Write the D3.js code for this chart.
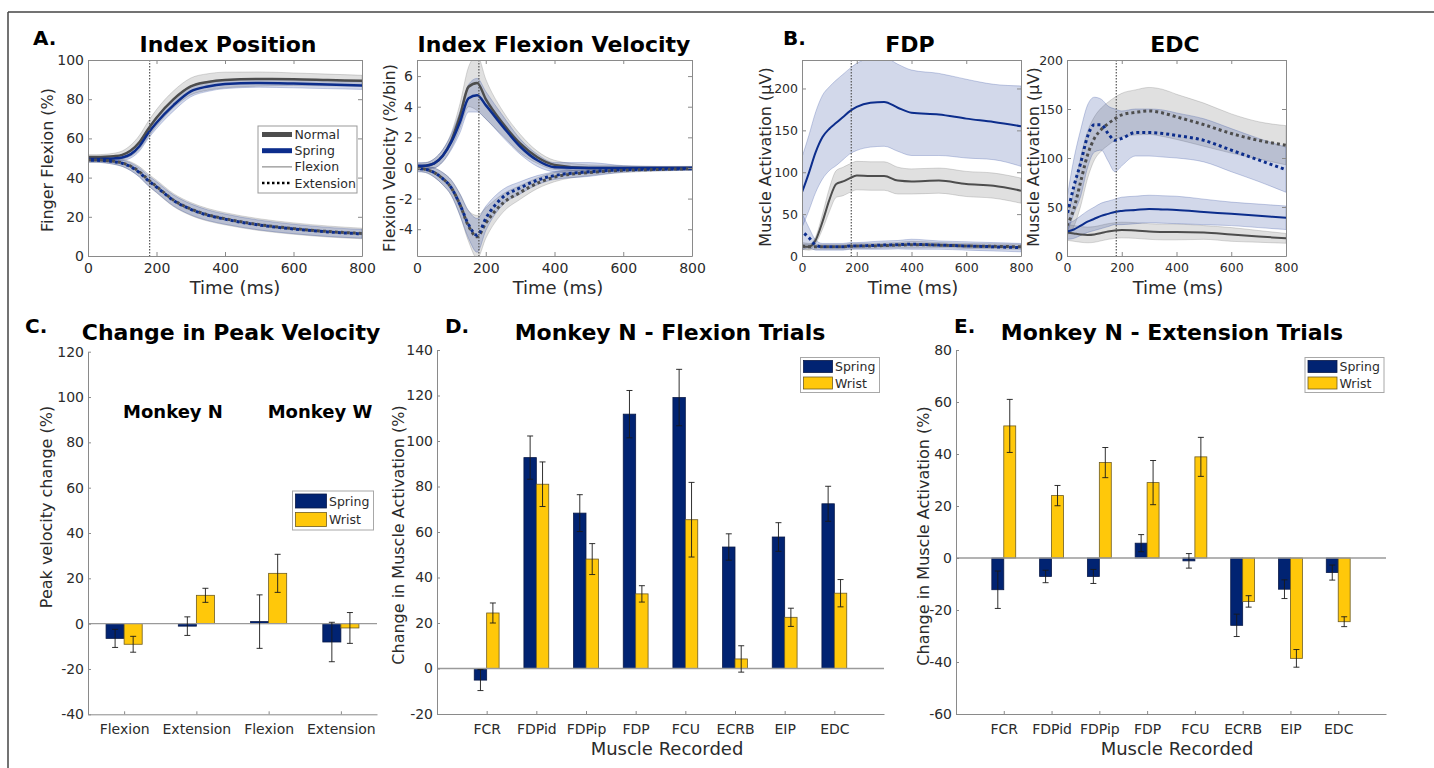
<!DOCTYPE html>
<html>
<head>
<meta charset="utf-8">
<script src="https://cdn.jsdelivr.net/npm/d3@7"></script>
<style>
body { margin: 0; background: #fff; }
svg { font-family: "DejaVu Sans", Verdana, sans-serif; }
</style>
</head>
<body>
<svg id="fig" width="1434" height="768"></svg>
<script>
// ---------- data ----------
// time samples (ms) shared by all trace panels
var T = [0, 25, 50, 75, 100, 125, 150, 175, 200, 250, 300, 350, 400, 500, 600, 700, 800];
var cueTime = 180;
var timeTicks = [0, 200, 400, 600, 800];

// A. index position (%)
var posNormFlex   = [50.5, 50.5, 50.6, 50.9, 51.6, 53.8, 58, 64.5, 70.5, 80, 86.5, 88.8, 89.8, 90.3, 90.2, 89.8, 89.4];
var posNormFlexSd = [1.2, 1.2, 1.3, 1.5, 2, 2.8, 3.5, 4, 4.2, 4.3, 4.3, 4.2, 4, 3.6, 3.2, 3, 2.8];
var posSprFlex    = [49.5, 49.5, 49.6, 49.8, 50.3, 52, 56, 62.5, 68, 77, 84, 86.5, 87.7, 88.3, 88, 87.5, 87];
var posSprFlexSd  = [1, 1, 1, 1.2, 1.5, 2, 2.5, 2.8, 3, 3, 2.8, 2.5, 2.3, 2.2, 2.2, 2.1, 2];
var posNormExt    = [49, 49, 48.8, 48.3, 47.5, 45.8, 43, 39, 35.5, 28.5, 24, 21, 19, 16, 14, 12.5, 11.5];
var posNormExtSd  = [1.2, 1.2, 1.3, 1.5, 1.8, 2.2, 2.6, 3, 3.2, 3.3, 3.3, 3.2, 3.1, 3, 2.9, 2.8, 2.7];
var posSprExt     = [48.8, 48.8, 48.6, 48.1, 47.3, 45.5, 42.6, 38.6, 35.2, 28.3, 23.8, 20.8, 18.8, 15.8, 13.8, 12.3, 11.3];
var posSprExtSd   = [1, 1, 1.1, 1.3, 1.6, 2, 2.3, 2.6, 2.7, 2.8, 2.8, 2.7, 2.6, 2.5, 2.4, 2.3, 2.2];

// A. index flexion velocity (%/bin)
var velNormFlex   = [0.1, 0.15, 0.3, 0.8, 1.8, 3.4, 5.3, 5.55, 4.5, 2.9, 1.6, 0.7, 0.2, 0, 0, 0, 0];
var velNormFlexSd = [0.2, 0.2, 0.3, 0.4, 0.5, 0.8, 1.3, 1.8, 1.3, 0.8, 0.6, 0.4, 0.3, 0.2, 0.15, 0.1, 0.1];
var velSprFlex    = [0.15, 0.15, 0.3, 0.8, 1.7, 3.0, 4.55, 4.75, 4.1, 2.7, 1.4, 0.5, 0.05, 0, 0, 0, 0];
var velSprFlexSd  = [0.2, 0.2, 0.3, 0.4, 0.5, 0.7, 0.9, 1.1, 0.9, 0.7, 0.5, 0.4, 0.3, 0.35, 0.15, 0.1, 0.1];
var velNormExt    = [0, -0.1, -0.3, -0.7, -1.3, -2.4, -3.8, -4.5, -3.6, -2.3, -1.6, -1.0, -0.6, -0.3, -0.15, -0.1, -0.05];
var velNormExtSd  = [0.2, 0.2, 0.3, 0.4, 0.5, 0.7, 1.0, 1.4, 1.0, 0.6, 0.45, 0.35, 0.3, 0.2, 0.15, 0.1, 0.1];
var velSprExt     = [-0.05, -0.1, -0.3, -0.7, -1.3, -2.4, -3.7, -4.4, -3.3, -1.9, -1.3, -0.8, -0.5, -0.25, -0.12, -0.08, -0.05];
var velSprExtSd   = [0.2, 0.2, 0.3, 0.4, 0.5, 0.7, 0.9, 1.1, 0.8, 0.5, 0.4, 0.3, 0.25, 0.3, 0.15, 0.1, 0.1];

// B. FDP activation (uV)
var fdpNormFlex   = [11, 11, 19, 41, 67, 86, 89, 93, 96, 95.5, 95.5, 90, 89, 90, 86, 84, 78];
var fdpNormFlexSd = [3, 3, 4, 9, 14, 16, 17, 17, 17, 17, 17, 16, 15, 15, 15, 15, 15];
var fdpSprFlex    = [76, 99, 124, 142, 152, 159, 166, 173, 178, 183, 184, 177, 171, 169, 164, 160, 155];
var fdpSprFlexSd  = [42, 45, 48, 50, 50, 51, 51, 51, 52, 53, 53, 52, 51, 49, 47, 45, 48];
var fdpNormExt    = [12, 11, 11, 11, 11, 11, 11, 11.5, 12, 12, 12.5, 13, 13.5, 13, 12, 11.5, 11];
var fdpNormExtSd  = [4, 4, 3, 3, 3, 3, 3, 3, 3, 3, 3, 3, 4, 3, 3, 3, 3];
var fdpSprExt     = [29, 22, 13, 11, 11, 11, 11, 12, 12, 12.5, 13, 13.5, 14, 13, 12, 11, 10];
var fdpSprExtSd   = [22, 12, 6, 4, 4, 4, 4, 4, 4, 4.5, 5, 5, 6, 5, 5, 5, 5];

// B. EDC activation (uV)
var edcNormFlex   = [24, 23, 22, 21.5, 22, 23.5, 25, 26, 26.5, 26, 25, 24.5, 24.5, 24, 22, 20, 18];
var edcNormFlexSd = [8, 8, 8, 8, 8, 8, 8, 8, 8, 8, 8, 8, 8, 7, 7, 6, 5];
var edcSprFlex    = [25, 27, 31, 35, 38, 41, 43, 45, 46, 47, 48, 47.5, 47, 45, 43, 41, 39];
var edcSprFlexSd  = [8, 9, 10, 11, 12, 13, 13, 13, 14, 14, 14, 14, 14, 13, 12, 12, 12];
var edcNormExt    = [31, 48, 76, 103, 120, 129, 135, 140, 144, 146.5, 148, 146, 142, 134, 125, 118, 113];
var edcNormExtSd  = [10, 18, 25, 24, 22, 22, 22, 22, 22, 23, 24, 24, 23, 22, 20, 19, 20];
var edcSprExt     = [41, 71, 95, 122, 134, 134, 125, 118, 120, 126, 126, 125, 123, 118, 108, 98, 88];
var edcSprExtSd   = [18, 28, 34, 32, 28, 26, 28, 32, 28, 24, 24, 24, 23, 22, 22, 22, 23];

// C. peak velocity change (%)
var velCats      = ["Flexion", "Extension", "Flexion", "Extension"];
var pkSpring     = [-6.5, -1.1, 0.9, -8.1];
var pkSpringErr  = [4, 4.1, 11.8, 8.7];
var pkWrist      = [-9.1, 12.5, 22.2, -1.9];
var pkWristErr   = [3.5, 3.1, 8.4, 6.8];

// D / E. change in muscle activation (%)
var muscles       = ["FCR", "FDPid", "FDPip", "FDP", "FCU", "ECRB", "EIP", "EDC"];
var flexSpring    = [-5.1, 92.7, 68.3, 111.8, 119.1, 53.4, 57.8, 72.4];
var flexSpringErr = [4.6, 9.5, 8.1, 10.4, 12.4, 5.8, 6.3, 7.7];
var flexWrist     = [24.4, 81, 48.1, 32.8, 65.4, 4.2, 22.5, 33.1];
var flexWristErr  = [4.4, 9.8, 6.8, 3.6, 16.4, 5.8, 4, 6];
var extSpring     = [-12.2, -7.1, -7.1, 5.7, -1.1, -25.9, -12, -5.6];
var extSpringErr  = [7.2, 2.4, 2.7, 3.3, 2.8, 4.3, 3.6, 2.9];
var extWrist      = [50.8, 24, 36.7, 29, 38.9, -16.7, -38.6, -24.5];
var extWristErr   = [10.2, 3.9, 5.8, 8.5, 7.5, 2.2, 3.4, 1.9];

// ---------- styles ----------
var grayLine = "#4d4d4d", blueLine = "#0c2d8c";
var grayBand = "#646464", blueBand = "#1e3c96";
var springCol = "#012372", wristCol = "#ffc80a";
var axisCol = "#8a8a8a", textCol = "#2b2b2b";

var svg = d3.select("#fig");
var clipCount = 0;

function styleAxis(sel, size) {
  sel.attr("color", axisCol).attr("font-family", "DejaVu Sans").attr("font-size", size || 14);
  sel.selectAll("text").attr("fill", textCol);
}

function linePanel(box, yDomain, yTicks, series, lw, fs) {
  var x = d3.scaleLinear().domain([0, 800]).range([box.x0, box.x1]);
  var y = d3.scaleLinear().domain(yDomain).range([box.y1, box.y0]);
  var id = "clip" + (clipCount++);
  svg.append("clipPath").attr("id", id).append("rect")
    .attr("x", box.x0).attr("y", box.y0)
    .attr("width", box.x1 - box.x0).attr("height", box.y1 - box.y0);
  var g = svg.append("g").attr("clip-path", "url(#" + id + ")");

  // shaded error bands
  series.forEach(function(s) {
    var area = d3.area().curve(d3.curveMonotoneX)
      .x(function(d, i) { return x(T[i]); })
      .y0(function(d, i) { return y(d - s.sd[i]); })
      .y1(function(d, i) { return y(d + s.sd[i]); });
    g.append("path").datum(s.mean).attr("d", area)
      .attr("fill", s.band).attr("fill-opacity", 0.2)
      .attr("stroke", s.band).attr("stroke-opacity", 0.3).attr("stroke-width", 0.8);
  });

  // mean traces
  var line = d3.line().curve(d3.curveMonotoneX)
    .x(function(d, i) { return x(T[i]); })
    .y(function(d) { return y(d); });
  series.forEach(function(s) {
    g.append("path").datum(s.mean).attr("d", line)
      .attr("fill", "none").attr("stroke", s.color)
      .attr("stroke-width", s.dotted ? 3 : lw)
      .attr("stroke-dasharray", s.dotted ? "3,3" : null)
      .attr("stroke-dashoffset", s.dotted && s.color == blueLine ? 3 : 0);
  });

  // go cue
  svg.append("line")
    .attr("x1", x(cueTime)).attr("x2", x(cueTime))
    .attr("y1", box.y0).attr("y2", box.y1)
    .attr("stroke", "#555").attr("stroke-width", 1.2).attr("stroke-dasharray", "1.5,1.5");

  svg.append("g").attr("transform", "translate(0," + box.y1 + ")")
    .call(d3.axisBottom(x).tickValues(timeTicks).tickSizeInner(-4).tickSizeOuter(0).tickPadding(7))
    .call(styleAxis, fs);
  svg.append("g").attr("transform", "translate(0," + box.y0 + ")")
    .call(d3.axisTop(x).tickValues(timeTicks).tickSizeInner(-4).tickSizeOuter(0).tickFormat(""))
    .call(styleAxis, fs);
  svg.append("g").attr("transform", "translate(" + box.x0 + ",0)")
    .call(d3.axisLeft(y).tickValues(yTicks).tickSizeInner(-4).tickSizeOuter(0).tickPadding(4)
      .tickFormat(function(d) { return String(d); }))
    .call(styleAxis, fs);
  svg.append("g").attr("transform", "translate(" + box.x1 + ",0)")
    .call(d3.axisRight(y).tickValues(yTicks).tickSizeInner(-4).tickSizeOuter(0).tickFormat(""))
    .call(styleAxis, fs);
}

function errBars(x, y, vals, errs, off) {
  vals.forEach(function(v, i) {
    var cx = x(i + 1) + off;
    var g = svg.append("g").attr("stroke", "#1a1a1a").attr("stroke-width", 0.9);
    g.append("line").attr("x1", cx).attr("x2", cx).attr("y1", y(v - errs[i])).attr("y2", y(v + errs[i]));
    g.append("line").attr("x1", cx - 3).attr("x2", cx + 3).attr("y1", y(v - errs[i])).attr("y2", y(v - errs[i]));
    g.append("line").attr("x1", cx - 3).attr("x2", cx + 3).attr("y1", y(v + errs[i])).attr("y2", y(v + errs[i]));
  });
}

function barPanel(box, xDomain, yDomain, yTicks, cats, sp, spErr, wr, wrErr) {
  var x = d3.scaleLinear().domain(xDomain).range([box.x0, box.x1]);
  var y = d3.scaleLinear().domain(yDomain).range([box.y1, box.y0]);
  var w = (x(2) - x(1)) * 0.25;

  svg.append("g").selectAll("rect").data(sp).enter().append("rect")
    .attr("x", function(d, i) { return x(i + 1) - w; })
    .attr("y", function(d) { return y(Math.max(d, 0)); })
    .attr("width", w)
    .attr("height", function(d) { return Math.abs(y(d) - y(0)); })
    .attr("fill", springCol).attr("stroke", "#0a1a48").attr("stroke-width", 0.8);
  svg.append("g").selectAll("rect").data(wr).enter().append("rect")
    .attr("x", function(d, i) { return x(i + 1); })
    .attr("y", function(d) { return y(Math.max(d, 0)); })
    .attr("width", w)
    .attr("height", function(d) { return Math.abs(y(d) - y(0)); })
    .attr("fill", wristCol).attr("stroke", "#6e5c22").attr("stroke-width", 0.8);

  svg.append("line")
    .attr("x1", box.x0).attr("x2", box.x1).attr("y1", y(0)).attr("y2", y(0))
    .attr("stroke", "#9a9a9a").attr("stroke-width", 1.3);

  errBars(x, y, sp, spErr, -w / 2);
  errBars(x, y, wr, wrErr, w / 2);

  svg.append("g").attr("transform", "translate(0," + box.y1 + ")")
    .call(d3.axisBottom(x).tickValues(d3.range(1, cats.length + 1)).tickSizeInner(-3).tickSizeOuter(0).tickPadding(10)
      .tickFormat(function(d) { return cats[d - 1]; }))
    .call(styleAxis);
  svg.append("g").attr("transform", "translate(" + box.x0 + ",0)")
    .call(d3.axisLeft(y).tickValues(yTicks).tickSizeInner(-3).tickSizeOuter(0).tickPadding(4)
      .tickFormat(function(d) { return String(d); }))
    .call(styleAxis);
}

function barLegend(bx, by, bw, bh, sw, sh, tx, rows) {
  svg.append("rect").attr("x", bx).attr("y", by).attr("width", bw).attr("height", bh)
    .attr("fill", "#fff").attr("stroke", "#a8a8a8").attr("stroke-width", 1);
  rows.forEach(function(r, i) {
    var ry = by + 3 + i * (sh + 4.5);
    svg.append("rect").attr("x", bx + 3).attr("y", ry).attr("width", sw).attr("height", sh)
      .attr("fill", r.color).attr("stroke", r.edge).attr("stroke-width", 0.8);
    svg.append("text").attr("x", tx).attr("y", ry + sh / 2).attr("dy", "0.36em")
      .attr("font-size", 12.5).attr("fill", textCol).text(r.name);
  });
}

function txt(x, y, s, size, opts) {
  opts = opts || {};
  var t = svg.append("text").attr("x", x).attr("y", y)
    .attr("font-size", size).attr("fill", opts.fill || textCol)
    .attr("text-anchor", opts.anchor || "middle")
    .attr("font-weight", opts.bold ? "bold" : null)
    .text(s);
  if (opts.rotate) t.attr("transform", "rotate(-90," + x + "," + y + ")");
  return t;
}

// ---------- frame ----------
svg.append("line").attr("x1", 8).attr("x2", 1434).attr("y1", 12).attr("y2", 12).attr("stroke", "#444").attr("stroke-width", 1.5);
svg.append("line").attr("x1", 8).attr("x2", 8).attr("y1", 12).attr("y2", 768).attr("stroke", "#444").attr("stroke-width", 1.5);

// ---------- A ----------
linePanel({x0: 88, x1: 362, y0: 60, y1: 256}, [0, 100], [0, 20, 40, 60, 80, 100], [
  {mean: posNormFlex, sd: posNormFlexSd, color: grayLine, band: grayBand},
  {mean: posSprFlex, sd: posSprFlexSd, color: blueLine, band: blueBand},
  {mean: posNormExt, sd: posNormExtSd, color: grayLine, band: grayBand, dotted: true},
  {mean: posSprExt, sd: posSprExtSd, color: blueLine, band: blueBand, dotted: true}
], 2.5, 14);

// A legend
svg.append("rect").attr("x", 258).attr("y", 126).attr("width", 99).attr("height", 67)
  .attr("fill", "#fff").attr("stroke", "#999").attr("stroke-width", 1);
var legA = [
  {name: "Normal", color: grayLine, w: 5},
  {name: "Spring", color: blueLine, w: 5},
  {name: "Flexion", color: "#777", w: 1},
  {name: "Extension", color: "#000", w: 2.5, dash: "2.5,2.5"}
];
legA.forEach(function(r, i) {
  var ly = 134.5 + i * 16.2;
  svg.append("line").attr("x1", 262).attr("x2", 292).attr("y1", ly).attr("y2", ly)
    .attr("stroke", r.color).attr("stroke-width", r.w).attr("stroke-dasharray", r.dash || null);
  svg.append("text").attr("x", 294.5).attr("y", ly).attr("dy", "0.36em")
    .attr("font-size", 12.5).attr("fill", textCol).text(r.name);
});

linePanel({x0: 417, x1: 692, y0: 60, y1: 256}, [-5.75, 7.05], [-4, -2, 0, 2, 4, 6], [
  {mean: velNormFlex, sd: velNormFlexSd, color: grayLine, band: grayBand},
  {mean: velSprFlex, sd: velSprFlexSd, color: blueLine, band: blueBand},
  {mean: velNormExt, sd: velNormExtSd, color: grayLine, band: grayBand, dotted: true},
  {mean: velSprExt, sd: velSprExtSd, color: blueLine, band: blueBand, dotted: true}
], 2.5, 14);

// ---------- B ----------
linePanel({x0: 802, x1: 1021, y0: 60, y1: 256}, [0, 234], [0, 50, 100, 150, 200], [
  {mean: fdpNormFlex, sd: fdpNormFlexSd, color: grayLine, band: grayBand},
  {mean: fdpSprFlex, sd: fdpSprFlexSd, color: blueLine, band: blueBand},
  {mean: fdpNormExt, sd: fdpNormExtSd, color: grayLine, band: grayBand, dotted: true},
  {mean: fdpSprExt, sd: fdpSprExtSd, color: blueLine, band: blueBand, dotted: true}
], 2, 12.5);

linePanel({x0: 1067, x1: 1286, y0: 60, y1: 256}, [0, 200], [0, 50, 100, 150, 200], [
  {mean: edcNormFlex, sd: edcNormFlexSd, color: grayLine, band: grayBand},
  {mean: edcSprFlex, sd: edcSprFlexSd, color: blueLine, band: blueBand},
  {mean: edcNormExt, sd: edcNormExtSd, color: grayLine, band: grayBand, dotted: true},
  {mean: edcSprExt, sd: edcSprExtSd, color: blueLine, band: blueBand, dotted: true}
], 2, 12.5);

// ---------- C / D / E ----------
barPanel({x0: 88, x1: 377, y0: 351.7, y1: 714.3}, [0.5, 4.5], [-40, 120], d3.range(-40, 121, 20),
  velCats, pkSpring, pkSpringErr, pkWrist, pkWristErr);
barPanel({x0: 437, x1: 884, y0: 350, y1: 714}, [0, 9], [-20, 140], d3.range(-20, 141, 20),
  muscles, flexSpring, flexSpringErr, flexWrist, flexWristErr);
barPanel({x0: 956, x1: 1386, y0: 350, y1: 714}, [0, 9], [-60, 80], d3.range(-60, 81, 20),
  muscles, extSpring, extSpringErr, extWrist, extWristErr);

var legRows = [
  {name: "Spring", color: springCol, edge: "#0a1a48"},
  {name: "Wrist", color: wristCol, edge: "#6e5c22"}
];
barLegend(292.5, 491, 81, 39, 31, 14, 329, legRows);
barLegend(800.5, 357.5, 79, 35, 29, 12, 835, legRows);
barLegend(1305, 357.5, 79, 35, 29, 12, 1339.5, legRows);

// ---------- text ----------
var black = {bold: true, fill: "#000"};
txt(33, 45, "A.", 20, {bold: true, fill: "#000", anchor: "start"});
txt(783, 45, "B.", 20, {bold: true, fill: "#000", anchor: "start"});
txt(25, 333, "C.", 20, {bold: true, fill: "#000", anchor: "start"});
txt(445, 333, "D.", 20, {bold: true, fill: "#000", anchor: "start"});
txt(954, 333, "E.", 20, {bold: true, fill: "#000", anchor: "start"});

txt(228, 52, "Index Position", 22, black);
txt(554, 52, "Index Flexion Velocity", 22, black);
txt(910, 52, "FDP", 22, black);
txt(1175, 52, "EDC", 22, black);
txt(231, 340, "Change in Peak Velocity", 22, black);
txt(670, 340, "Monkey N - Flexion Trials", 22, black);
txt(1172, 340, "Monkey N - Extension Trials", 22, black);

txt(173, 418, "Monkey N", 18, black);
txt(320, 418, "Monkey W", 18, black);

txt(235, 294, "Time (ms)", 18);
txt(558, 294, "Time (ms)", 18);
txt(913, 294, "Time (ms)", 18);
txt(1178, 294, "Time (ms)", 18);
txt(667, 755, "Muscle Recorded", 18);
txt(1177, 755, "Muscle Recorded", 18);

txt(53, 160, "Finger Flexion (%)", 16, {rotate: true});
txt(395, 158, "Flexion Velocity (%/bin)", 16, {rotate: true});
txt(771, 157, "Muscle Activation (\u03bcV)", 16, {rotate: true});
txt(1039, 157, "Muscle Activation (\u03bcV)", 16, {rotate: true});
txt(52, 507, "Peak velocity change (%)", 16, {rotate: true});
txt(404, 535, "Change in Muscle Activation (%)", 16, {rotate: true});
txt(929, 536, "Change in Muscle Activation (%)", 16, {rotate: true});
</script>
</body>
</html>
